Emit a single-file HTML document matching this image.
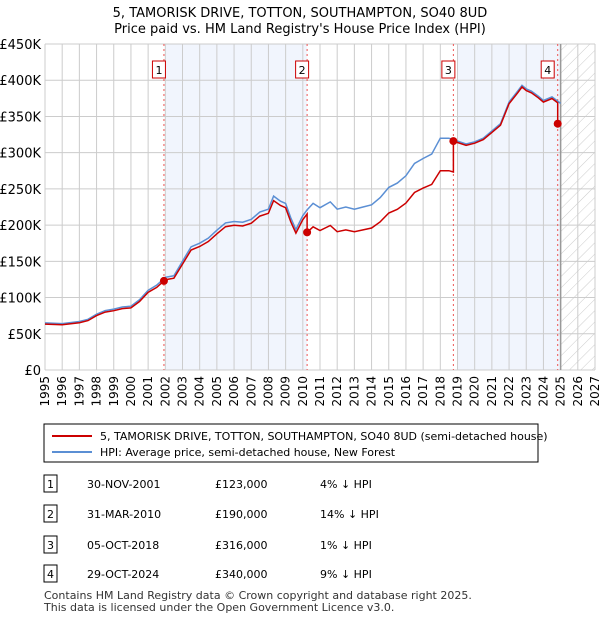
<!DOCTYPE html>
<html><head><meta charset="utf-8"><style>
body{margin:0;background:#fff;font-family:"Liberation Sans","DejaVu Sans",sans-serif;}
svg text{font-family:"DejaVu Sans","Liberation Sans",sans-serif;}
</style></head><body>
<svg id="c" width="600" height="620" viewBox="0 0 600 620">
<defs><pattern id="hatch" width="8" height="8" patternUnits="userSpaceOnUse" patternTransform="rotate(45)"><line x1="0" y1="0" x2="0" y2="8" stroke="#ccc" stroke-width="1"/></pattern></defs>
<text x="300" y="17" text-anchor="middle" font-size="13">5, TAMORISK DRIVE, TOTTON, SOUTHAMPTON, SO40 8UD</text>
<text x="300" y="33" text-anchor="middle" font-size="13">Price paid vs. HM Land Registry's House Price Index (HPI)</text>
<g id="plot"></g>
<rect x="44" y="424" width="494" height="38" fill="#fff" stroke="#000" stroke-width="1"/>
<line x1="52" y1="436" x2="92" y2="436" stroke="#cc0000" stroke-width="2"/>
<text x="100" y="440" font-size="11">5, TAMORISK DRIVE, TOTTON, SOUTHAMPTON, SO40 8UD (semi-detached house)</text>
<line x1="52" y1="452" x2="92" y2="452" stroke="#5b8fd4" stroke-width="2"/>
<text x="100" y="456" font-size="11">HPI: Average price, semi-detached house, New Forest</text>
<g id="table" font-size="11"></g>
<text x="44" y="599" font-size="11" fill="#333">Contains HM Land Registry data © Crown copyright and database right 2025.</text>
<text x="44" y="611" font-size="11" fill="#333">This data is licensed under the Open Government Licence v3.0.</text>
</svg>
<script>
const years=[1995,1996,1997,1998,1999,2000,2001,2002,2003,2004,2005,2006,2007,2008,2009,2010,2011,2012,2013,2014,2015,2016,2017,2018,2019,2020,2021,2022,2023,2024,2025,2026,2027];
const yTicks=[0,50,100,150,200,250,300,350,400,450];
const yLabels=["£0","£50K","£100K","£150K","£200K","£250K","£300K","£350K","£400K","£450K"];
const hpiT=[1995,1996,1997,1997.5,1998,1998.5,1999,1999.5,2000,2000.5,2001,2001.5,2002,2002.5,2003,2003.5,2004,2004.5,2005,2005.5,2006,2006.5,2007,2007.5,2008,2008.3,2008.7,2009,2009.3,2009.6,2010,2010.25,2010.6,2011,2011.6,2012,2012.5,2013,2013.5,2014,2014.5,2015,2015.5,2016,2016.5,2017,2017.5,2018,2018.5,2019,2019.5,2020,2020.5,2021,2021.5,2022,2022.5,2022.75,2023,2023.3,2023.7,2024,2024.5,2025];
const hpiV=[65,64,67,70,77,82,84,87,88,97,110,117,128,130,150,170,175,182,193,203,205,204,208,218,222,240,233,230,210,194,213,221,230,224,232,222,225,222,225,228,238,252,258,268,285,292,298,320,320,316,312,315,320,330,340,370,385,393,388,385,378,372,377,368];
const saleT=[2001.92,2010.25,2018.76,2024.83];
const saleV=[123,190,316,340];
const saleLabels=["1","2","3","4"];
const saleDates=["30-NOV-2001","31-MAR-2010","05-OCT-2018","29-OCT-2024"];
const salePrices=["£123,000","£190,000","£316,000","£340,000"];
const saleDiffs=["4% ↓ HPI","14% ↓ HPI","1% ↓ HPI","9% ↓ HPI"];
const X0=45,X1=595,Y0=370,Y1=44;
const x=t=>X0+(t-1995)*(X1-X0)/32;
const y=v=>Y0-v*(Y0-Y1)/450;
const NS="http://www.w3.org/2000/svg";
const P=document.getElementById('plot');
function mk(tag,at,parent){const e=document.createElementNS(NS,tag);for(const k in at)e.setAttribute(k,at[k]);(parent||P).appendChild(e);return e;}
function hpiAt(t){for(let i=0;i<hpiT.length-1;i++){if(t<=hpiT[i+1])return hpiV[i]+(hpiV[i+1]-hpiV[i])*(t-hpiT[i])/(hpiT[i+1]-hpiT[i]);}return hpiV[hpiV.length-1];}
let s1=mk('rect',{x:x(2002),y:Y1,width:x(saleT[1])-x(2002),height:Y0-Y1,fill:'#eef2fc',opacity:0.8});


let s2=mk('rect',{x:x(2019),y:Y1,width:x(2025)-x(2019),height:Y0-Y1,fill:'#eef2fc',opacity:0.8});


let hz=mk('rect',{x:x(2025),y:Y1,width:X1-x(2025),height:Y0-Y1,fill:'url(#hatch)'});


years.forEach(t=>{let l=mk('line',{x1:x(t),x2:x(t),y1:Y1,y2:Y0,stroke:'#ccc','stroke-width':1});


let tx=mk('text',{x:0,y:0,'font-size':12,'text-anchor':'end',transform:`translate(${x(t)+4},${Y0+6}) rotate(-90)`});
tx.textContent=t;

});
yTicks.forEach((v,i)=>{let l=mk('line',{x1:X0,x2:X1,y1:y(v),y2:y(v),stroke:'#ccc','stroke-width':1});


let tx=mk('text',{x:X0-4,y:y(v)+5,'font-size':13,'text-anchor':'end'});
tx.textContent=yLabels[i];

});
let nowl=mk('line',{x1:x(2025),x2:x(2025),y1:Y1,y2:Y0,stroke:'#999','stroke-width':1.5});


saleT.forEach((t,i)=>{let l=mk('line',{x1:x(t),x2:x(t),y1:Y1,y2:Y0,stroke:'#e55','stroke-width':1,'stroke-dasharray':'2,3'});


const off=(i==3?10:5);
let r=mk('rect',{x:x(t)-off-6.5,y:61,width:13,height:17,fill:'#fff',stroke:'#cc0000'});


let tx=mk('text',{x:x(t)-off,y:74,'font-size':11,'text-anchor':'middle'});
tx.textContent=saleLabels[i];

});
let hp=hpiT.map((t,i)=>`${i?'L':'M'}${x(t).toFixed(1)},${y(hpiV[i]).toFixed(1)}`).join('');
let hl=mk('path',{d:hp,fill:'none',stroke:'#5b8fd4','stroke-width':1.5});


const ratios=saleT.map((t,i)=>saleV[i]/hpiAt(t));
let pts=[];
hpiT.forEach((t,i)=>{
  saleT.forEach((st,j)=>{const prev=pts.length?pts[pts.length-1][0]:0;if(st>prev&&st<=t&&j>0){pts.push([st,hpiAt(st)*ratios[j-1]]);pts.push([st,saleV[j]]);}});
  let k=0;for(let j=0;j<saleT.length;j++)if(t>=saleT[j])k=j;
  pts.push([t,hpiV[i]*ratios[k]]);});
let rl=mk('path',{d:pts.map((p,i)=>`${i?'L':'M'}${x(p[0]).toFixed(1)},${y(p[1]).toFixed(1)}`).join(''),fill:'none',stroke:'#cc0000','stroke-width':1.5});


saleT.forEach((t,i)=>{let c=mk('circle',{cx:x(t),cy:y(saleV[i]),r:4,fill:'#cc0000'});

});
const T=document.getElementById('table');
const rowsY=[484,514,545,574];
rowsY.forEach((ry,i)=>{
 let r=mk('rect',{x:44,y:ry-9,width:13,height:17,fill:'#fff',stroke:'#000'},T);
 
 
 const cells=[[50.5,saleLabels[i],'middle'],[87,saleDates[i],'start'],[215,salePrices[i],'start'],[320,saleDiffs[i],'start']];
 cells.forEach(c=>{let t=mk('text',{x:c[0],y:ry+4,'text-anchor':c[2]},T);t.textContent=c[1];
 
 });
});
</script>
</body></html>
